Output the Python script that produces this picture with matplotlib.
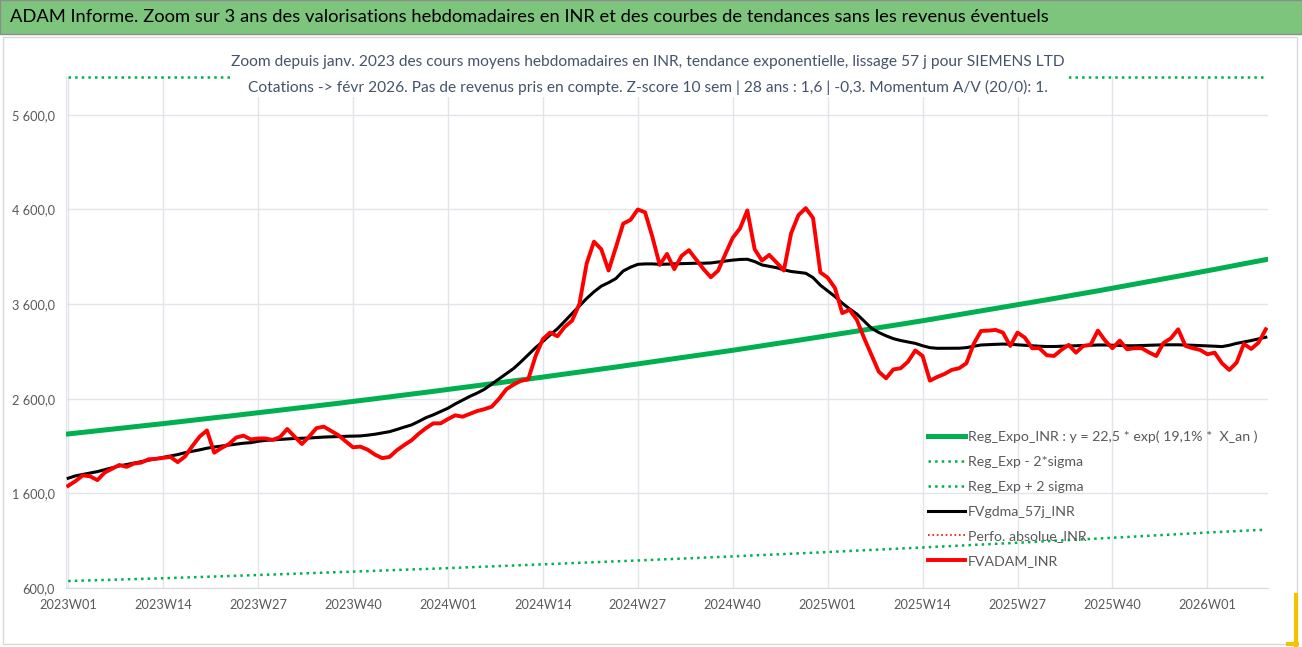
import numpy as np
import matplotlib
matplotlib.use("Agg")
import matplotlib.pyplot as plt
from matplotlib.patches import Rectangle
from matplotlib.lines import Line2D

plt.rcParams['font.family'] = ['Lato', 'DejaVu Sans']

# semaines 2023W01 -> 2026W09 (165 points)
n_weeks = 165
week_labels = [f"{2023 + i // 52}W{i % 52 + 1:02d}" for i in range(n_weeks)]

# cours moyens hebdo (FVADAM_INR)
fv_adam = [
    1680, 1730, 1790, 1780, 1740, 1820, 1860, 1900, 1880, 1915, 1925, 1960, 1965, 1975, 1985, 1930,
    1990, 2100, 2200, 2265, 2030, 2080, 2120, 2190, 2210, 2170, 2180, 2180, 2165, 2195, 2280, 2200,
    2122, 2200, 2290, 2305, 2260, 2215, 2150, 2087, 2094, 2062, 2010, 1972, 1985, 2055, 2110, 2160,
    2230, 2290, 2340, 2340, 2385, 2425, 2410, 2440, 2470, 2490, 2516, 2600, 2700, 2750, 2790, 2806,
    3050, 3230, 3300, 3260, 3360, 3425, 3600, 4030, 4260, 4180, 3955, 4200, 4450, 4490, 4600, 4570,
    4310, 4014, 4130, 3970, 4110, 4170, 4070, 3970, 3884, 3954, 4130, 4300, 4400, 4590, 4180, 4060,
    4120, 4040, 3955, 4350, 4540, 4614, 4510, 3935, 3880, 3770, 3505, 3540, 3433, 3240, 3063, 2886,
    2816, 2910, 2922, 2992, 3110, 3052, 2791, 2830, 2862, 2905, 2922, 2975, 3180, 3316, 3320, 3327,
    3299, 3158, 3299, 3246, 3134, 3134, 3060, 3052, 3116, 3169, 3087, 3158, 3169, 3320, 3214, 3134,
    3214, 3123, 3134, 3134, 3090, 3052, 3190, 3239, 3334, 3158, 3134, 3116, 3070, 3087, 2975, 2904,
    2982, 3180, 3126, 3193, 3334,
]

# moyenne mobile 57 j (FVgdma_57j_INR)
fv_gdma = [
    1760, 1785, 1800, 1815, 1830, 1850, 1870, 1890, 1905, 1920, 1935, 1950, 1965, 1980, 1995, 2010,
    2030, 2045, 2060, 2077, 2090, 2100, 2110, 2120, 2130, 2136, 2150, 2160, 2165, 2170, 2176, 2180,
    2182, 2185, 2190, 2195, 2198, 2200, 2203, 2205, 2207, 2215, 2225, 2238, 2252, 2275, 2300, 2323,
    2360, 2400, 2430, 2465, 2500, 2545, 2585, 2625, 2660, 2700, 2755, 2810, 2865, 2920, 2990, 3065,
    3140, 3205, 3275, 3340, 3420, 3500, 3580, 3660, 3730, 3790, 3827, 3870, 3950, 3990, 4020, 4025,
    4025, 4020, 4022, 4025, 4028, 4030, 4032, 4032, 4035, 4045, 4055, 4065, 4072, 4074, 4050, 4014,
    4000, 3985, 3962, 3945, 3935, 3926, 3880, 3800, 3740, 3680, 3610, 3550, 3495, 3420, 3345, 3300,
    3265, 3235, 3215, 3200, 3185, 3160, 3140, 3133, 3133, 3133, 3134, 3140, 3155, 3168, 3172, 3175,
    3178, 3175, 3170, 3165, 3160, 3155, 3152, 3152, 3155, 3158, 3160, 3162, 3165, 3168, 3168, 3165,
    3162, 3160, 3160, 3162, 3165, 3168, 3170, 3170, 3170, 3168, 3165, 3162, 3160, 3155, 3151, 3165,
    3185, 3200, 3215, 3232, 3250,
]

# regression exponentielle
reg_expo = [
    2228, 2236, 2245, 2253, 2262, 2270, 2278, 2287, 2295, 2304, 2312, 2320, 2329, 2337,
    2346, 2355, 2363, 2372, 2381, 2390, 2399, 2407, 2416, 2425, 2434, 2443, 2451,
    2460, 2469, 2479, 2488, 2497, 2506, 2515, 2525, 2534, 2543, 2552, 2562, 2571,
    2581, 2590, 2600, 2610, 2620, 2629, 2639, 2649, 2658, 2668, 2678, 2687, 2697,
    2707, 2717, 2727, 2738, 2748, 2758, 2768, 2778, 2788, 2799, 2809, 2819, 2829,
    2840, 2850, 2861, 2871, 2882, 2893, 2903, 2914, 2924, 2935, 2946, 2956, 2967,
    2978, 2989, 3000, 3012, 3023, 3034, 3045, 3056, 3067, 3078, 3090, 3101, 3112,
    3124, 3136, 3147, 3159, 3171, 3183, 3194, 3206, 3218, 3230, 3241, 3253, 3265,
    3277, 3289, 3302, 3314, 3326, 3338, 3351, 3363, 3375, 3387, 3400, 3412, 3424,
    3437, 3450, 3463, 3476, 3489, 3502, 3514, 3527, 3540, 3553, 3566, 3579, 3592,
    3605, 3619, 3632, 3646, 3659, 3673, 3686, 3700, 3713, 3727, 3740, 3754, 3767,
    3781, 3796, 3810, 3824, 3838, 3852, 3867, 3881, 3895, 3910, 3924, 3938, 3952,
    3967, 3982, 3996, 4011, 4026, 4041, 4055, 4070,
]

reg_minus = [
    674, 676, 678, 681, 683, 685, 687, 690, 692, 694, 696, 698, 701, 703,
    706, 708, 711, 713, 716, 719, 721, 724, 726, 729, 732, 734, 737,
    740, 742, 745, 748, 751, 753, 756, 759, 762, 765, 767, 770, 773,
    776, 779, 782, 784, 787, 790, 793, 796, 799, 801, 804, 807, 810,
    813, 816, 819, 822, 825, 828, 831, 835, 838, 841, 844, 847, 850,
    853, 856, 860, 863, 866, 869, 872, 875, 879, 882, 885, 888, 891,
    894, 898, 901, 904, 907, 911, 914, 917, 921, 924, 927, 931, 934,
    938, 941, 945, 948, 952, 955, 959, 962, 966, 969, 973, 976, 980,
    984, 987, 991, 995, 998, 1002, 1006, 1010, 1013, 1017, 1021, 1024, 1028,
    1032, 1036, 1040, 1043, 1047, 1051, 1055, 1059, 1063, 1067, 1070, 1074, 1078,
    1082, 1086, 1090, 1094, 1098, 1102, 1107, 1111, 1115, 1119, 1123, 1127, 1131,
    1135, 1139, 1144, 1148, 1152, 1156, 1161, 1165, 1169, 1173, 1177, 1182, 1186,
    1190, 1194, 1197, 1201, 1205, 1209, 1212, 1216,
]

# +2 sigma : hors echelle, Excel la colle en haut du graphique
reg_plus = [
    7350, 7380, 7410, 7430, 7460, 7490, 7520, 7540, 7570, 7600, 7630, 7660, 7680, 7710,
    7740, 7770, 7800, 7830, 7860, 7890, 7920, 7950, 7970, 8000, 8030, 8060, 8090,
    8120, 8150, 8180, 8210, 8240, 8270, 8300, 8330, 8360, 8390, 8420, 8450, 8490,
    8520, 8550, 8580, 8620, 8650, 8680, 8710, 8740, 8780, 8810, 8840, 8870, 8900,
    8930, 8970, 9000, 9030, 9070, 9100, 9130, 9170, 9200, 9240, 9270, 9300, 9340,
    9370, 9410, 9440, 9480, 9510, 9550, 9580, 9620, 9650, 9690, 9720, 9760, 9790,
    9830, 9870, 9900, 9940, 9980, 10010, 10050, 10090, 10120, 10160, 10200, 10230, 10270,
    10310, 10350, 10390, 10430, 10460, 10500, 10540, 10580, 10620, 10660, 10700, 10740, 10780,
    10820, 10860, 10900, 10940, 10980, 11020, 11060, 11100, 11140, 11180, 11220, 11260, 11300,
    11340, 11390, 11430, 11470, 11510, 11560, 11600, 11640, 11680, 11730, 11770, 11810, 11850,
    11900, 11940, 11990, 12030, 12080, 12120, 12160, 12210, 12250, 12300, 12340, 12390, 12430,
    12480, 12520, 12570, 12620, 12670, 12710, 12760, 12810, 12850, 12900, 12950, 13000, 13040,
    13090, 13140, 13190, 13240, 13290, 13330, 13380, 13430,
]

perfo_abs = fv_adam  # masquee sous la courbe rouge

y_min, y_max = 600, 6000
y_ticks = [600, 1600, 2600, 3600, 4600, 5600]

W, H = 1302, 647
fig = plt.figure(figsize=(W / 100, H / 100), dpi=100)
fig.patch.set_facecolor('white')

# cadre et bandeau titre (derriere les axes)
fig.patches.append(Rectangle((3 / W, 3 / H), (W - 8) / W, (H - 40) / H, transform=fig.transFigure,
                             facecolor='none', edgecolor='#D9D9D9', lw=1, zorder=-5))
fig.patches.append(Rectangle((0, 1 - 34 / H), 1, 34 / H, transform=fig.transFigure,
                             facecolor='#7DC57C', edgecolor='#8C8C8C', lw=1, zorder=-5))
fig.lines.append(Line2D([1296 / W, 1296 / W], [2 / H, 52 / H], transform=fig.transFigure,
                        color='#F2C400', lw=3))
fig.lines.append(Line2D([1288 / W, 1297 / W], [3 / H, 3 / H], transform=fig.transFigure,
                        color='#F2C400', lw=3))
fig.text(10 / W, 1 - 17 / H, "ADAM Informe. Zoom sur 3 ans des valorisations hebdomadaires en INR "
         "et des courbes de tendances sans les revenus éventuels",
         fontsize=13.2, color='black', va='center', ha='left')

ax = fig.add_axes([66 / W, 1 - 588 / H, (1268 - 66) / W, (588 - 77) / H])
ax.patch.set_alpha(0)
x = np.arange(n_weeks)

ax.plot(x, np.minimum(reg_plus, y_max), color='#00B050', ls=':', lw=1.8, clip_on=False, zorder=2,
        label='Reg_Exp + 2 sigma')
ax.plot(x, reg_minus, color='#00B050', ls=':', lw=1.8, zorder=2, label='Reg_Exp - 2*sigma')
ax.plot(x, reg_expo, color='#00B050', lw=3.6, zorder=3,
        label='Reg_Expo_INR : y = 22,5 * exp( 19,1% *  X_an )')
ax.plot(x, perfo_abs, color='#FF0000', ls=':', lw=1.2, zorder=3, label='Perfo. absolue_INR')
ax.plot(x, fv_gdma, color='black', lw=2.2, zorder=4, label='FVgdma_57j_INR')
ax.plot(x, fv_adam, color='#FF0000', lw=2.8, zorder=5, label='FVADAM_INR')

ax.set_xlim(-0.3, n_weeks - 0.7)
ax.set_ylim(y_min, y_max)
ax.set_yticks(y_ticks)
ax.set_yticklabels([f"{v:,.1f}".replace(',', ' ').replace('.', ',') for v in y_ticks])
xt = list(range(0, n_weeks, 13))
ax.set_xticks(xt)
ax.set_xticklabels([week_labels[i] for i in xt])
ax.tick_params(length=0, labelsize=9.2, colors='#595959', pad=8)
ax.grid(True, color='#E1E4EA', lw=1)
ax.set_axisbelow(True)
for side in ['top', 'right']:
    ax.spines[side].set_visible(False)
ax.spines['left'].set_color('#E1E4EA')
ax.spines['bottom'].set_color('#D9D9D9')

h, l = ax.get_legend_handles_labels()
order = [2, 1, 0, 4, 3, 5]
ax.legend([h[k] for k in order], [l[k] for k in order], loc='upper left',
          bbox_to_anchor=(915 / W, 1 - 418 / H), bbox_transform=fig.transFigure,
          frameon=False, fontsize=10.2, labelcolor='#595959', handlelength=2.6,
          handletextpad=0.25, labelspacing=0.9)

fig.text(648 / W, 1 - 75 / H,
         "Zoom depuis janv. 2023 des cours moyens hebdomadaires en INR, tendance exponentielle, "
         "lissage 57 j pour SIEMENS LTD\nCotations -> févr 2026. Pas de revenus pris en compte. "
         "Z-score 10 sem | 28 ans : 1,6 | -0,3. Momentum A/V (20/0): 1.",
         fontsize=11.2, color='#44546A', ha='center', va='center', linespacing=1.95,
         bbox=dict(facecolor='white', edgecolor='none', pad=1))

fig.savefig('out.png', dpi=100)
